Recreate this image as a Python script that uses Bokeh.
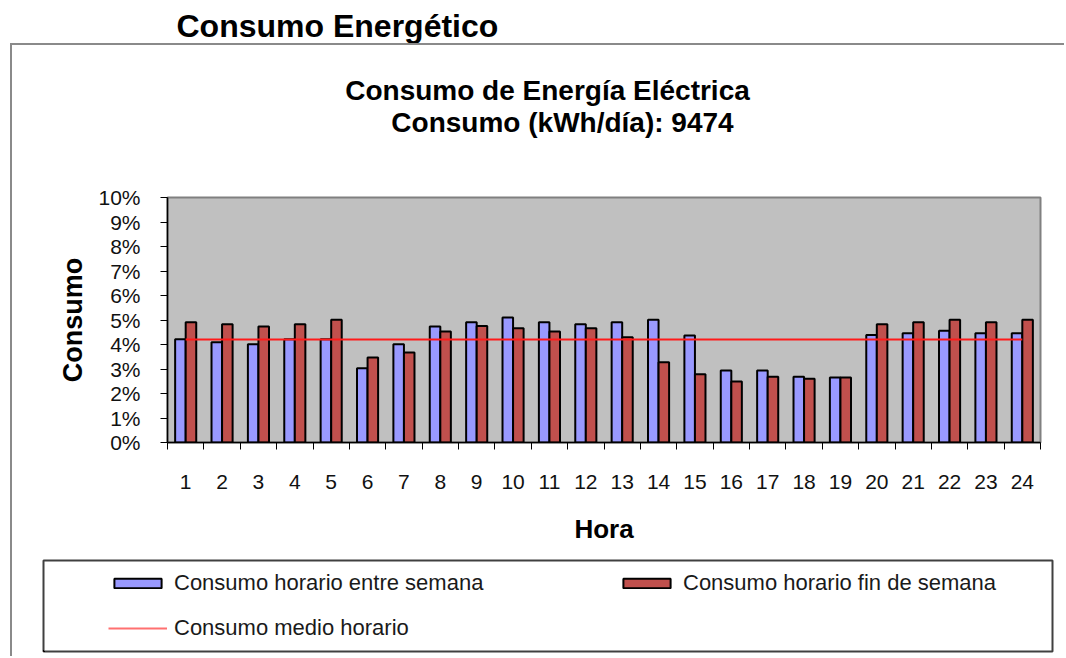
from bokeh.plotting import figure
from bokeh.models import (FixedTicker, PrintfTickFormatter, Legend, LegendItem, Label,
                          ColumnDataSource, Range1d)
from bokeh.layouts import column
from bokeh.transform import dodge
from bokeh.embed import file_html
from bokeh.resources import INLINE

# ---- data (percent of daily consumption per hour) ----
hours = list(range(1, 25))
consumo_semana = [4.21, 4.09, 4.01, 4.21, 4.21, 3.03, 4.01, 4.73, 4.91, 5.10, 4.91, 4.83,
                  4.91, 5.01, 4.37, 2.94, 2.94, 2.68, 2.65, 4.39, 4.46, 4.56, 4.46, 4.46]
consumo_finde = [4.91, 4.83, 4.73, 4.83, 5.01, 3.47, 3.67, 4.53, 4.76, 4.66, 4.53, 4.66,
                 4.30, 3.28, 2.79, 2.49, 2.68, 2.60, 2.65, 4.83, 4.91, 5.01, 4.91, 5.01]
consumo_medio = 4.2
y_ticks = [0, 1, 2, 3, 4, 5, 6, 7, 8, 9, 10]

page_title = "Consumo Energético"
chart_title = "Consumo de Energía Eléctrica"
chart_subtitle = "Consumo (kWh/día): 9474"
series_names = ["Consumo horario entre semana", "Consumo horario fin de semana",
                "Consumo medio horario"]

FONT = "Liberation Sans"
BLUE = "#9999FF"
RED = "#C0504D"
LINE_RED = "#FF1A1A"
W = 1052  # width of the bordered card content


def text_fig(width, height):
    f = figure(width=width, height=height, output_backend="svg", toolbar_location=None,
               x_range=Range1d(0, 1), y_range=Range1d(0, 1),
               x_axis_type=None, y_axis_type=None, min_border=0)
    f.title = None
    f.frame_align = False
    f.outline_line_color = None
    f.xgrid.visible = False
    f.ygrid.visible = False
    return f


# ---- header (outside the frame) ----
header = text_fig(1066, 43)
header.add_layout(Label(x=176, y=18, x_units="screen", y_units="screen", text=page_title,
                        text_align="left", text_baseline="middle", text_font=FONT,
                        text_font_style="bold", text_font_size="32px", text_color="black"))

# ---- chart titles ----
tfig = text_fig(W, 105)
tfig.add_layout(Label(x=535, y=60, x_units="screen", y_units="screen", text=chart_title,
                      text_align="center", text_baseline="middle", text_font=FONT,
                      text_font_style="bold", text_font_size="28px", text_color="black"))
tfig.add_layout(Label(x=550, y=28, x_units="screen", y_units="screen", text=chart_subtitle,
                      text_align="center", text_baseline="middle", text_font=FONT,
                      text_font_style="bold", text_font_size="28px", text_color="black"))

# ---- main chart ----
p = figure(width=W, height=405, output_backend="svg", toolbar_location=None,
           x_range=Range1d(0.5, 24.5), y_range=Range1d(0, 10),
           min_border_left=155, min_border_right=24, min_border_top=47,
           min_border_bottom=113, background_fill_color="#C0C0C0",
           border_fill_color="white")
p.title = None
p.frame_align = False
p.outline_line_color = "#808080"
p.outline_line_width = 2
p.xgrid.visible = False
p.ygrid.visible = False

src = ColumnDataSource(dict(hora=hours, semana=consumo_semana, finde=consumo_finde))
mean_src = ColumnDataSource(dict(x=[hours[0], hours[-1]], y=[consumo_medio, consumo_medio]))
p.vbar(x=dodge("hora", -0.145, range=p.x_range), top="semana", width=0.29,
       source=src, fill_color=BLUE, line_color="black", line_width=2)
p.vbar(x=dodge("hora", 0.145, range=p.x_range), top="finde", width=0.29,
       source=src, fill_color=RED, line_color="black", line_width=2)
p.line(x="x", y="y", source=mean_src, line_color=LINE_RED, line_width=2)

xa = p.xaxis[0]
xa.ticker = FixedTicker(ticks=hours, minor_ticks=[h - 0.5 for h in hours] + [hours[-1] + 0.5])
xa.major_tick_out = 0
xa.major_tick_in = 0
xa.minor_tick_out = 7
xa.minor_tick_in = 0
xa.minor_tick_line_color = "black"
xa.axis_line_color = "black"
xa.axis_line_width = 1.5
xa.major_label_standoff = 25
xa.major_label_text_font = FONT
xa.major_label_text_font_size = "21px"
xa.major_label_text_color = "#111111"
xa.axis_label = "Hora"
xa.axis_label_text_font = FONT
xa.axis_label_text_font_style = "bold"
xa.axis_label_text_font_size = "26px"
xa.axis_label_text_color = "black"
xa.axis_label_standoff = 22

ya = p.yaxis[0]
ya.ticker = FixedTicker(ticks=y_ticks, minor_ticks=[])
ya.formatter = PrintfTickFormatter(format="%d%%")
ya.major_tick_out = 7
ya.major_tick_in = 0
ya.minor_tick_out = 0
ya.minor_tick_in = 0
ya.major_tick_line_color = "black"
ya.axis_line_color = "black"
ya.axis_line_width = 1.5
ya.major_label_standoff = 20
ya.major_label_text_font = FONT
ya.major_label_text_font_size = "21px"
ya.major_label_text_color = "#111111"
ya.axis_label = "Consumo"
ya.axis_label_text_font = FONT
ya.axis_label_text_font_style = "bold"
ya.axis_label_text_font_size = "27px"
ya.axis_label_text_color = "black"
ya.axis_label_standoff = 7

# ---- legend in its own bordered box ----
# (the series are re-drawn here only as legend keys; the view range keeps them off-frame)
lf = figure(width=W, height=101, output_backend="svg", toolbar_location=None,
            x_range=Range1d(100, 101), y_range=Range1d(100, 101),
            x_axis_type=None, y_axis_type=None,
            min_border_left=31, min_border_right=12, min_border_top=5, min_border_bottom=5)
lf.title = None
lf.frame_align = False
lf.outline_line_color = "#404040"
lf.outline_line_width = 2
lf.xgrid.visible = False
lf.ygrid.visible = False
g1 = lf.vbar(x="hora", top="semana", width=0.29, source=src, fill_color=BLUE,
             line_color="black", line_width=2)
g2 = lf.vbar(x="hora", top="finde", width=0.29, source=src, fill_color=RED,
             line_color="black", line_width=2)
g3 = lf.line(x="x", y="y", source=mean_src, line_color="#FF7070", line_width=2)
legend = Legend(items=[LegendItem(label=series_names[0], renderers=[g1]),
                       LegendItem(label=series_names[2], renderers=[g3]),
                       LegendItem(label=series_names[1], renderers=[g2])],
                location=(65, 10), orientation="vertical", nrows=2, ncols=2,
                glyph_width=59, glyph_height=12, label_standoff=7, label_width=424,
                label_height=24, spacing=19, label_text_font=FONT,
                label_text_font_size="22px", label_text_color="#1a1a1a",
                border_line_color=None, background_fill_alpha=0, margin=0, padding=0)
lf.add_layout(legend)

card = column(tfig, p, lf, margin=(0, 0, 0, 10),
              styles={"border-top": "2px solid #8a8a8a", "border-left": "2px solid #8a8a8a"})
layout = column(header, card)

open("out.html", "w").write(file_html(layout, INLINE))
